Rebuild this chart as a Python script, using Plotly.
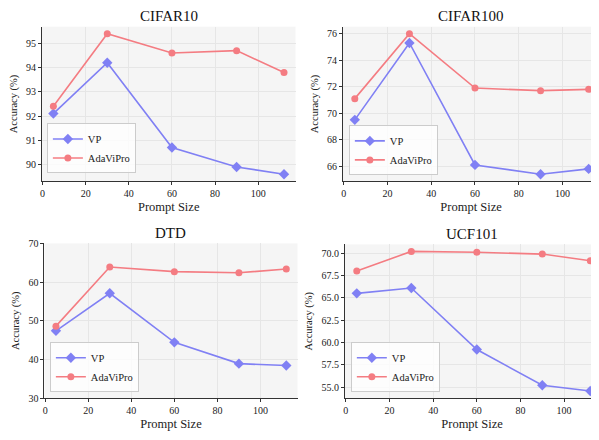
import plotly.graph_objects as go

prompt_sizes = [5, 30, 60, 90, 112]

titles = ["CIFAR10", "CIFAR100", "DTD", "UCF101"]

vp_cifar10 = [92.1, 94.2, 90.7, 89.9, 89.6]
ada_cifar10 = [92.4, 95.4, 94.6, 94.7, 93.8]

vp_cifar100 = [69.5, 75.3, 66.1, 65.4, 65.8]
ada_cifar100 = [71.1, 76.0, 71.9, 71.7, 71.8]

vp_dtd = [47.4, 57.1, 44.4, 38.9, 38.4]
ada_dtd = [48.6, 63.9, 62.7, 62.4, 63.4]

vp_ucf = [65.5, 66.1, 59.2, 55.2, 54.55]
ada_ucf = [68.0, 70.2, 70.1, 69.9, 69.15]

x_ticks = [0, 20, 40, 60, 80, 100]
y_ticks_cifar10 = [90, 91, 92, 93, 94, 95]
y_ticks_cifar100 = [66, 68, 70, 72, 74, 76]
y_ticks_dtd = [30, 40, 50, 60, 70]
y_ticks_ucf = [55.0, 57.5, 60.0, 62.5, 65.0, 67.5, 70.0]

VP_COLOR = "#8080f4"
ADA_COLOR = "#f47c82"
FONT = "Times New Roman, Liberation Serif, serif"

PAGE_W, PAGE_H = 599, 440
OFF = 8  # default page margin around the plot div
W, H = PAGE_W - OFF, PAGE_H - OFF

# axes boxes in page pixels: left, right, top, bottom (right may be cropped by the page)
boxes = [
    (40, 294.5, 21, 180),
    (342.2, 599, 21, 180),
    (42.5, 296.5, 244, 403),
    (344.2, 599, 245, 403),
]
# page pixel position of x=0 and pixels per unit, used to get the visible x range
x_zero = [40.7, 343.0, 43.3, 345.0]
x_scale = [2.163, 2.193, 2.16, 2.19]
legend_pos = [(45, 172), (348, 174), (48, 397), (350, 397)]

vp_data = [vp_cifar10, vp_cifar100, vp_dtd, vp_ucf]
ada_data = [ada_cifar10, ada_cifar100, ada_dtd, ada_ucf]
y_ticks = [y_ticks_cifar10, y_ticks_cifar100, y_ticks_dtd, y_ticks_ucf]
y_fmt = ["d", "d", "d", ".1f"]


def auto_range(vals_a, vals_b):
    lo = min(vals_a + vals_b)
    hi = max(vals_a + vals_b)
    m = (hi - lo) * 0.05
    return [lo - m, hi + m]


def px(xp):
    return (xp - OFF) / W


def py(yp):
    return 1 - (yp - OFF) / H


fig = go.Figure()
layout = dict(
    width=W, height=H,
    margin=dict(l=0, r=0, t=0, b=0),
    paper_bgcolor="white",
    plot_bgcolor="#f5f5f5",
    font=dict(family=FONT, color="#222"),
    showlegend=True,
    annotations=[],
)

for i in range(4):
    sfx = "" if i == 0 else str(i + 1)
    leg = "legend" if i == 0 else "legend" + str(i + 1)
    l, r, t, b = boxes[i]
    fig.add_trace(go.Scatter(
        x=prompt_sizes, y=vp_data[i], name="VP", mode="lines+markers",
        line=dict(color=VP_COLOR, width=1.6),
        marker=dict(symbol="diamond", size=8, color=VP_COLOR),
        xaxis="x" + sfx, yaxis="y" + sfx, legend=leg, cliponaxis=False,
    ))
    fig.add_trace(go.Scatter(
        x=prompt_sizes, y=ada_data[i], name="AdaViPro", mode="lines+markers",
        line=dict(color=ADA_COLOR, width=1.6),
        marker=dict(symbol="circle", size=7, color=ADA_COLOR),
        xaxis="x" + sfx, yaxis="y" + sfx, legend=leg, cliponaxis=False,
    ))
    if i == 2:
        yr = [30, 70]
    else:
        yr = auto_range(vp_data[i], ada_data[i])
    xr = [(l - x_zero[i]) / x_scale[i], (r - x_zero[i]) / x_scale[i]]
    layout["xaxis" + sfx] = dict(
        domain=[px(l), min(px(r), 1.0)], anchor="y" + sfx, range=xr,
        tickvals=x_ticks, ticks="outside", ticklen=3, tickcolor="#333",
        showline=True, linecolor="#333", linewidth=1,
        showgrid=True, gridcolor="#e6e6e6", gridwidth=1, zeroline=False,
        tickfont=dict(size=10, family=FONT, color="#222"),
        title=dict(text="Prompt Size", font=dict(size=12.5, family=FONT, color="#222"), standoff=4),
    )
    layout["yaxis" + sfx] = dict(
        domain=[py(b), py(t)], anchor="x" + sfx, range=yr,
        tickvals=y_ticks[i], tickformat=y_fmt[i], ticks="outside", ticklen=3, tickcolor="#333",
        showline=True, linecolor="#333", linewidth=1,
        showgrid=True, gridcolor="#e6e6e6", gridwidth=1, zeroline=False,
        tickfont=dict(size=10, family=FONT, color="#222"),
        title=dict(text="Accuracy (%)", font=dict(size=10.5, family=FONT, color="#222"), standoff=6),
    )
    lx, ly = legend_pos[i]
    layout[leg] = dict(
        x=px(lx), y=py(ly), xanchor="left", yanchor="bottom",
        bgcolor="rgba(255,255,255,0.8)", bordercolor="#cccccc", borderwidth=1,
        font=dict(size=10.5, family=FONT, color="#222"),
        tracegroupgap=0, itemwidth=30,
    )
    layout["annotations"].append(dict(
        text=titles[i], xref="paper", yref="paper",
        x=px((l + r) / 2), y=py(t - 11), xanchor="center", yanchor="middle",
        showarrow=False, font=dict(size=15, family=FONT, color="#111"),
    ))

fig.update_layout(**layout)
fig.write_html("out.html")
